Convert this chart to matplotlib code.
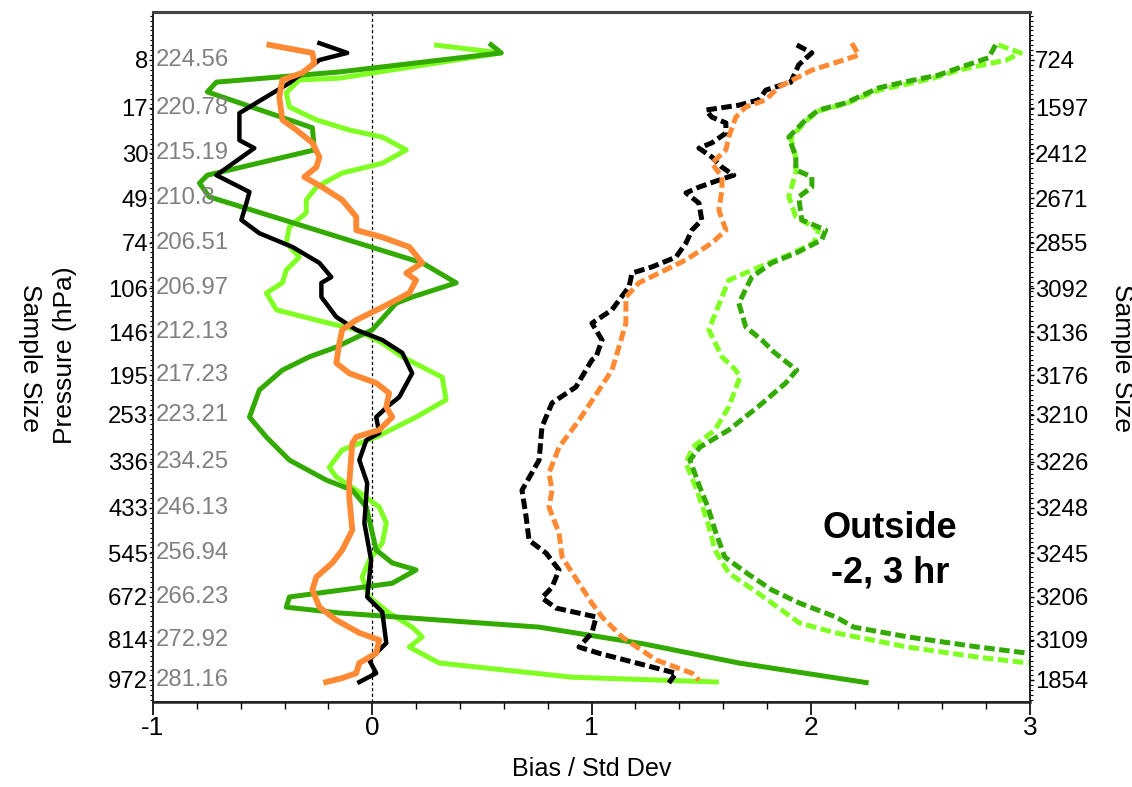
import matplotlib
matplotlib.use("Agg")
import matplotlib.pyplot as plt
from matplotlib import font_manager
from matplotlib.ticker import MultipleLocator

# ---------------- data ----------------
pressure_labels = ['8', '17', '30', '49', '74', '106', '146', '195', '253', '336',
                   '433', '545', '672', '814', '972']
temp_labels = ['224.56', '220.78', '215.19', '210.8', '206.51', '206.97', '212.13',
               '217.23', '223.21', '234.25', '246.13', '256.94', '266.23', '272.92', '281.16']
sample_labels = ['724', '1597', '2412', '2671', '2855', '3092', '3136', '3176', '3210',
                 '3226', '3248', '3245', '3206', '3109', '1854']
# position of each pressure level on the vertical axis
level_pos = [0.0, 1.08, 2.10, 3.12, 4.13, 5.15, 6.14, 7.11, 8.01, 9.07,
             10.11, 11.13, 12.12, 13.09, 13.99]

# Bias (solid) curves: x value, level position
black_bias_x = [-0.241, -0.114, -0.241, -0.378, -0.506, -0.606, -0.606, -0.538, -0.711, -0.560,
                -0.574, -0.597, -0.515, -0.364, -0.241, -0.187, -0.232, -0.232, -0.164, -0.073,
                0.046, 0.137, 0.182, 0.123, 0.077, 0.018, 0.032, -0.027, -0.059, -0.023,
                -0.036, -0.005, -0.023, 0.046, 0.064, -0.014, 0.018, -0.059]
black_bias_y = [-0.38, -0.16, 0.0, 0.52, 0.90, 1.20, 1.81, 1.99, 2.60, 2.98,
                3.23, 3.61, 3.91, 4.22, 4.58, 4.90, 5.03, 5.35, 5.80, 6.09,
                6.32, 6.61, 7.07, 7.61, 7.79, 8.06, 8.42, 8.58, 9.03, 9.55,
                10.45, 11.29, 12.12, 12.46, 13.16, 13.54, 13.84, 14.04]

orange_bias_x = [-0.469, -0.273, -0.264, -0.319, -0.410, -0.424, -0.410, -0.346, -0.273, -0.241,
                 -0.255, -0.310, -0.228, -0.137, -0.073, -0.073, 0.046, 0.169, 0.228, 0.155,
                 0.200, 0.169, 0.046, -0.073, -0.137, -0.150, -0.164, -0.105, 0.018, 0.077,
                 0.064, 0.091, 0.032, -0.073, -0.091, -0.105, -0.105, -0.091, -0.137, -0.182,
                 -0.255, -0.273, -0.241, -0.164, -0.059, 0.032, 0.018, -0.059, -0.073, -0.137,
                 -0.210]
orange_bias_y = [-0.34, -0.16, 0.07, 0.29, 0.45, 0.84, 1.35, 1.58, 1.87, 2.19,
                 2.42, 2.64, 2.87, 3.16, 3.54, 3.84, 4.00, 4.22, 4.58, 4.81,
                 4.97, 5.26, 5.58, 5.87, 6.09, 6.39, 6.84, 7.07, 7.29, 7.52,
                 7.83, 8.06, 8.35, 8.51, 8.65, 9.55, 9.86, 10.61, 11.06, 11.35,
                 11.67, 11.96, 12.35, 12.64, 12.93, 13.09, 13.39, 13.61, 13.84, 13.95,
                 14.04]

dkgreen_bias_x = [0.533, 0.588, -0.150, -0.711, -0.752, -0.273, -0.264, -0.752, -0.788, -0.743,
                  0.228, 0.383, 0.182, 0.109, 0.0, -0.164, -0.287, -0.410, -0.515, -0.560,
                  -0.483, -0.378, -0.210, -0.091, -0.027, 0.018, 0.091, 0.200, 0.091, -0.378,
                  -0.392, -0.150, 0.761, 1.240, 1.672, 2.264]
dkgreen_bias_y = [-0.38, -0.16, 0.27, 0.50, 0.72, 1.53, 2.03, 2.60, 2.78, 3.09,
                  4.58, 5.03, 5.35, 5.49, 6.09, 6.48, 6.70, 7.00, 7.45, 8.06,
                  8.51, 9.03, 9.48, 9.71, 10.09, 11.06, 11.35, 11.51, 11.81, 12.12,
                  12.35, 12.48, 12.80, 13.18, 13.61, 14.06]

ltgreen_bias_x = [0.282, 0.588, -0.150, -0.333, -0.392, -0.378, -0.255, -0.105, 0.046, 0.155,
                  0.046, -0.137, -0.255, -0.301, -0.301, -0.378, -0.392, -0.333, -0.392, -0.410,
                  -0.483, -0.437, -0.255, -0.073, 0.046, 0.137, 0.319, 0.337, 0.200, 0.018,
                  -0.137, -0.196, -0.164, -0.073, 0.032, 0.064, 0.046, -0.014, -0.046, -0.014,
                  0.077, 0.182, 0.228, 0.169, 0.305, 0.911, 1.581]
ltgreen_bias_y = [-0.34, -0.16, 0.41, 0.45, 0.74, 1.06, 1.35, 1.58, 1.74, 2.03,
                  2.33, 2.55, 2.87, 3.16, 3.45, 3.77, 4.13, 4.45, 4.74, 5.03,
                  5.26, 5.64, 5.87, 6.09, 6.39, 6.70, 7.16, 7.67, 8.06, 8.51,
                  8.80, 9.19, 9.41, 9.71, 10.09, 10.45, 10.90, 11.29, 11.67, 12.12,
                  12.48, 12.80, 13.02, 13.25, 13.61, 13.93, 14.04]

# Std Dev (dashed) curves
black_std_x = [1.936, 2.005, 1.945, 1.909, 1.795, 1.763, 1.672, 1.522, 1.549, 1.613,
               1.613, 1.549, 1.490, 1.549, 1.595, 1.649, 1.581, 1.490, 1.431, 1.490,
               1.503, 1.458, 1.431, 1.385, 1.276, 1.185, 1.171, 1.093, 1.002, 1.048,
               1.021, 1.002, 0.929, 0.820, 0.774, 0.761, 0.683, 0.702, 0.715, 0.793,
               0.852, 0.820, 0.774, 0.838, 1.021, 1.002, 0.943, 1.034, 1.385, 1.353]
black_std_y = [-0.34, -0.16, 0.11, 0.50, 0.68, 0.90, 1.02, 1.13, 1.29, 1.42,
               1.65, 1.87, 1.99, 2.19, 2.42, 2.60, 2.71, 2.87, 3.00, 3.23,
               3.61, 3.84, 4.13, 4.45, 4.67, 4.81, 5.12, 5.64, 5.94, 6.32,
               6.70, 6.77, 7.38, 7.74, 8.28, 9.03, 9.71, 10.32, 10.84, 11.13,
               11.51, 11.90, 12.14, 12.37, 12.57, 12.93, 13.25, 13.39, 13.84, 14.06]

orange_std_x = [2.187, 2.219, 2.005, 1.854, 1.795, 1.704, 1.658, 1.626, 1.613, 1.549,
                1.595, 1.595, 1.581, 1.613, 1.549, 1.431, 1.308, 1.216, 1.157, 1.157,
                1.112, 1.093, 1.034, 0.943, 0.852, 0.806, 0.820, 0.806, 0.852, 0.866,
                0.943, 1.002, 1.048, 1.139, 1.294, 1.458, 1.490]
orange_std_y = [-0.38, -0.11, 0.23, 0.61, 0.90, 1.06, 1.29, 1.74, 2.03, 2.33,
                2.64, 2.93, 3.39, 3.84, 4.13, 4.51, 4.81, 5.03, 5.35, 5.94,
                6.70, 7.00, 7.45, 8.13, 8.74, 9.32, 9.71, 10.09, 10.68, 11.22,
                11.81, 12.26, 12.57, 13.02, 13.54, 13.84, 14.00]

dkgreen_std_x = [2.843, 2.811, 2.697, 2.583, 2.424, 2.310, 2.159, 2.036, 1.977, 1.900,
                 1.932, 1.932, 2.005, 2.005, 1.945, 1.959, 2.068, 2.050, 1.932, 1.822,
                 1.731, 1.672, 1.704, 1.777, 1.831, 1.936, 1.886, 1.759, 1.626, 1.494,
                 1.449, 1.494, 1.531, 1.563, 1.608, 1.708, 1.822, 1.950, 2.114, 2.196,
                 2.442, 2.765, 2.993]
dkgreen_std_y = [-0.34, -0.05, 0.14, 0.34, 0.50, 0.63, 0.97, 1.13, 1.35, 1.74,
                 2.19, 2.48, 2.64, 2.87, 3.09, 3.61, 3.84, 4.06, 4.36, 4.58,
                 4.90, 5.49, 6.03, 6.32, 6.59, 7.00, 7.29, 7.83, 8.35, 8.74,
                 9.03, 9.64, 10.09, 10.61, 11.22, 11.58, 11.96, 12.26, 12.57, 12.80,
                 13.02, 13.25, 13.39]

ltgreen_std_x = [2.856, 2.957, 2.893, 2.788, 2.674, 2.560, 2.424, 2.310, 2.159, 2.036,
                 1.977, 1.909, 1.932, 1.932, 1.900, 1.932, 2.036, 2.014, 1.900, 1.809,
                 1.626, 1.595, 1.535, 1.595, 1.658, 1.677, 1.626, 1.563, 1.462, 1.431,
                 1.481, 1.531, 1.563, 1.626, 1.759, 1.950, 2.114, 2.442, 2.765, 2.993]
ltgreen_std_y = [-0.34, -0.16, 0.0, 0.11, 0.23, 0.41, 0.56, 0.68, 0.99, 1.15,
                 1.38, 1.76, 2.21, 2.53, 3.09, 3.54, 3.84, 4.13, 4.40, 4.58,
                 4.97, 5.35, 6.09, 6.70, 7.00, 7.16, 7.83, 8.35, 8.74, 9.10,
                 9.71, 10.45, 11.06, 11.58, 12.03, 12.71, 12.93, 13.25, 13.48, 13.61]

x_ticks = [-1, 0, 1, 2, 3]
x_label = 'Bias / Std Dev'
annotation = 'Outside\n-2, 3 hr'

# ---------------- style ----------------
COL_BLACK = '#000000'
COL_ORANGE = '#ff8a33'
COL_DKGREEN = '#33aa00'
COL_LTGREEN = '#80ff22'

names = {f.name for f in font_manager.fontManager.ttflist}
if 'Liberation Sans Narrow' in names:
    NARROW = 'Liberation Sans Narrow'
    nscale = 1.0
else:
    NARROW = 'Liberation Sans'
    nscale = 0.86
REG = 'Liberation Sans' if 'Liberation Sans' in names else 'DejaVu Sans'

W, H = 1132, 787
fig = plt.figure(figsize=(W / 100, H / 100), dpi=100)
L, R, T, B = 153, 1030, 12, 702
ax = fig.add_axes([L / W, 1 - B / H, (R - L) / W, (B - T) / H])

ax.set_xlim(-1, 3)
ax.set_ylim(14.49, -1.083)

ax.axvline(0, color='black', lw=0.9, ls=(0, (2.5, 2.0)), zorder=1)

solid_kw = dict(lw=3.6, solid_joinstyle='round', solid_capstyle='butt')
dash_kw = dict(lw=3.6, dashes=(2.1, 0.9), dash_joinstyle='round', dash_capstyle='butt')

ax.plot(ltgreen_bias_x, ltgreen_bias_y, color=COL_LTGREEN, zorder=2, **solid_kw)
ax.plot(dkgreen_bias_x, dkgreen_bias_y, color=COL_DKGREEN, zorder=3, **solid_kw)
ax.plot(black_bias_x, black_bias_y, color=COL_BLACK, zorder=4, lw=3.2,
        solid_joinstyle='round')
ax.plot(orange_bias_x, orange_bias_y, color=COL_ORANGE, zorder=5, lw=4.2,
        solid_joinstyle='round')

ax.plot(ltgreen_std_x, ltgreen_std_y, color=COL_LTGREEN, zorder=2, **dash_kw)
ax.plot(dkgreen_std_x, dkgreen_std_y, color=COL_DKGREEN, zorder=3, **dash_kw)
ax.plot(black_std_x, black_std_y, color=COL_BLACK, zorder=4, **dash_kw)
ax.plot(orange_std_x, orange_std_y, color=COL_ORANGE, zorder=5, **dash_kw)

# x axis
ax.set_xticks(x_ticks)
ax.set_xticklabels([str(v) for v in x_ticks], fontfamily=NARROW, fontsize=22 * nscale)
ax.xaxis.set_minor_locator(MultipleLocator(0.2))
ax.tick_params(axis='x', which='major', direction='out', length=9, width=1.2, pad=1)
ax.tick_params(axis='x', which='minor', direction='out', length=5, width=1.0)
ax.set_xlabel(x_label, fontfamily=NARROW, fontsize=21 * nscale, labelpad=12)

# left y axis: pressure
ax.set_yticks(level_pos)
ax.set_yticklabels(pressure_labels, fontfamily=NARROW, fontsize=20 * nscale)
ax.yaxis.set_minor_locator(MultipleLocator(1 / 9))
ax.tick_params(axis='y', which='major', direction='out', length=3, width=1.0, pad=0.5)
ax.tick_params(axis='y', which='minor', direction='out', length=2, width=0.8)

# grey temperature labels inside the axes
ytr = ax.get_yaxis_transform()
for pos, t in zip(level_pos, temp_labels):
    ax.text(0.003, pos, t, transform=ytr, ha='left', va='center', color='#808080',
            fontfamily=NARROW, fontsize=20 * nscale, zorder=6)

# right axis: sample size
ax2 = ax.twinx()
ax2.set_ylim(ax.get_ylim())
ax2.set_yticks(level_pos)
ax2.set_yticklabels(sample_labels, fontfamily=NARROW, fontsize=20 * nscale)
ax2.yaxis.set_minor_locator(MultipleLocator(1 / 9))
ax2.tick_params(axis='y', which='major', direction='out', length=3, width=1.0, pad=0.5)
ax2.tick_params(axis='y', which='minor', direction='out', length=2, width=0.8)

for a in (ax, ax2):
    for s in ('left', 'right', 'bottom'):
        a.spines[s].set_linewidth(1.3)
        a.spines[s].set_color('#222222')
    a.spines['top'].set_linewidth(2.2)
    a.spines['top'].set_color('#444444')
ax.spines['bottom'].set_linewidth(1.8)

# side titles
fig.text(30 / W, 1 - 358 / H, 'Sample Size', rotation=270, ha='center', va='center',
         fontfamily=REG, fontsize=19)
fig.text(65 / W, 1 - 355 / H, 'Pressure (hPa)', rotation=90, ha='center', va='center',
         fontfamily=REG, fontsize=19)
fig.text(1122 / W, 1 - 358 / H, 'Sample Size', rotation=270, ha='center', va='center',
         fontfamily=REG, fontsize=19)

# annotation
fig.text(890 / W, 1 - 551 / H, annotation, ha='center', va='center',
         fontfamily=REG, fontweight='bold', fontsize=26, linespacing=1.35)

fig.savefig('out.png', dpi=100)
